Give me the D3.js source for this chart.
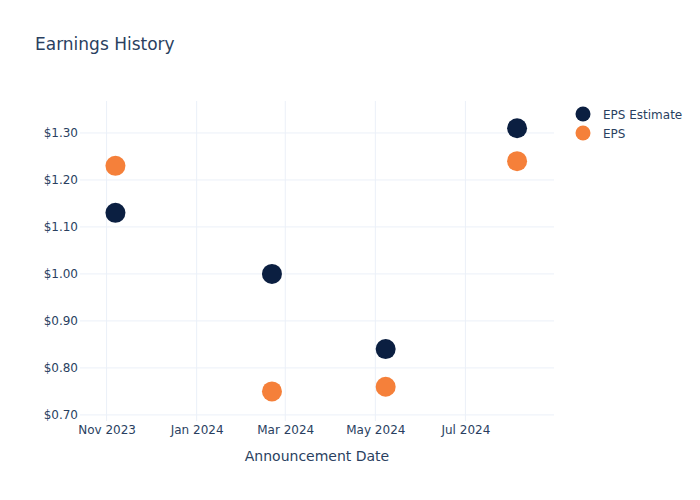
<!DOCTYPE html>
<html>
<head>
<meta charset="utf-8">
<script src="https://cdn.jsdelivr.net/npm/d3@7"></script>
<style>
  body { margin: 0; background: #fff; }
  text { font-family: "DejaVu Sans", sans-serif; fill: #2a3f5f; }
</style>
</head>
<body>
<svg id="chart" width="700" height="500"></svg>
<script>
// announcement dates
const dates = ["2023-11-07", "2024-02-21", "2024-05-08", "2024-08-05"];
const epsEstimate = [1.13, 1.00, 0.84, 1.31];
const eps = [1.23, 0.75, 0.76, 1.24];
const yTicks = [0.70, 0.80, 0.90, 1.00, 1.10, 1.20, 1.30];
const xTicks = ["2023-11-01", "2024-01-01", "2024-03-01", "2024-05-01", "2024-07-01"];

const seriesNames = ["EPS Estimate", "EPS"];
const colors = { "EPS Estimate": "#0b1f41", "EPS": "#f5803a" };

const svg = d3.select("#chart");
const margin = { top: 101, right: 146, bottom: 79, left: 80 };
const width = +svg.attr("width");
const height = +svg.attr("height");

const parse = d3.timeParse("%Y-%m-%d");

const x = d3.scaleTime()
  .domain([parse("2023-10-14"), parse("2024-08-30")])
  .range([margin.left, width - margin.right]);

const y = d3.scaleLinear()
  .domain([0.687, 1.368])
  .range([height - margin.bottom, margin.top]);

// grid
svg.append("g")
  .selectAll("line")
  .data(xTicks)
  .enter().append("line")
  .attr("x1", d => x(parse(d))).attr("x2", d => x(parse(d)))
  .attr("y1", margin.top).attr("y2", height - margin.bottom)
  .attr("stroke", "#ebf0f8").attr("stroke-width", 1);

svg.append("g")
  .selectAll("line")
  .data(yTicks)
  .enter().append("line")
  .attr("x1", margin.left).attr("x2", width - margin.right)
  .attr("y1", d => y(d)).attr("y2", d => y(d))
  .attr("stroke", "#ebf0f8").attr("stroke-width", 1);

// X-axis
const xAxis = svg.append("g")
  .attr("transform", `translate(0,${height - margin.bottom})`)
  .call(d3.axisBottom(x)
    .tickValues(xTicks.map(parse))
    .tickFormat(d3.timeFormat("%b %Y"))
    .tickSize(0)
    .tickPadding(4));
xAxis.select(".domain").remove();
xAxis.selectAll("text").style("font-size", "12px").attr("fill", "#2a3f5f");

// Y-axis
const yAxis = svg.append("g")
  .attr("transform", `translate(${margin.left},0)`)
  .call(d3.axisLeft(y)
    .tickValues(yTicks)
    .tickFormat(d => "$" + d3.format(".2f")(d))
    .tickSize(0)
    .tickPadding(2));
yAxis.select(".domain").remove();
yAxis.selectAll("text").style("font-size", "12px").attr("fill", "#2a3f5f");

// points
const series = [
  { name: "EPS Estimate", values: epsEstimate },
  { name: "EPS", values: eps }
];

series.forEach(s => {
  svg.append("g")
    .selectAll("circle")
    .data(s.values)
    .enter().append("circle")
    .attr("cx", (d, i) => x(parse(dates[i])))
    .attr("cy", d => y(d))
    .attr("r", 10)
    .attr("fill", colors[s.name]);
});

// title
svg.append("text")
  .attr("x", 35).attr("y", 50)
  .style("font-size", "17px")
  .text("Earnings History");

svg.append("text")
  .attr("x", (margin.left + width - margin.right) / 2)
  .attr("y", 461)
  .attr("text-anchor", "middle")
  .style("font-size", "14px")
  .text("Announcement Date");

// legend
const legend = svg.append("g").attr("transform", "translate(583,114)");
seriesNames.forEach((k, i) => {
  const item = legend.append("g").attr("transform", `translate(0,${i * 19})`);
  item.append("circle").attr("r", 7.5).attr("fill", colors[k]);
  item.append("text").attr("x", 20).attr("y", 4.5)
    .style("font-size", "12px").text(k);
});
</script>
</body>
</html>
